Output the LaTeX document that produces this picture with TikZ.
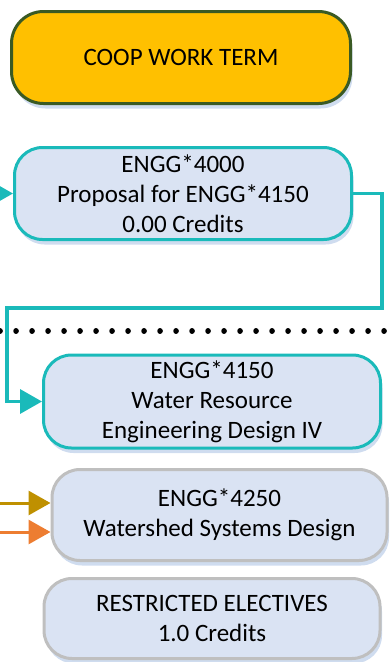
\documentclass[tikz,border=0pt]{standalone}
\usepackage{fontspec}
\setmainfont{Carlito}
\usetikzlibrary{arrows.meta, shadows}

\definecolor{coopfill}{HTML}{FFC000}
\definecolor{coopline}{HTML}{3A5A24}
\definecolor{boxfill}{HTML}{DAE3F3}
\definecolor{tealline}{HTML}{1ABABA}
\definecolor{greyline}{HTML}{BFBFBF}
\definecolor{goldline}{HTML}{BF9000}
\definecolor{orangeline}{HTML}{ED7D31}
\definecolor{shade}{HTML}{CFDCEF}

\tikzset{
course/.style={rounded corners=28pt, fill=boxfill, line width=3pt, align=center, inner sep=0pt,
  font=\fontsize{25}{30}\selectfont,
  drop shadow={shadow xshift=2pt, shadow yshift=-5pt, fill=shade, opacity=1}},
link/.style={line width=3.5pt, -{Triangle[length=22pt,width=24pt]}}
}

\begin{document}
\begin{tikzpicture}[x=1pt, y=-1pt]
\useasboundingbox (0,0) rectangle (390,662);
\node[course, draw=coopline, fill=coopfill, minimum width=339pt, minimum height=92pt, rounded corners=32pt] (coop) at (181,57.5) {COOP WORK TERM};
\node[course, draw=tealline, minimum width=337pt, minimum height=92pt] (4000) at (183,193.5) {ENGG*4000\\Proposal for ENGG*4150\\0.00 Credits};
\node[course, draw=tealline, minimum width=337pt, minimum height=93pt] (4150) at (212,401.5) {ENGG*4150\\Water Resource\\Engineering Design IV};
\node[course, draw=greyline, minimum width=335pt, minimum height=91pt] (4250) at (219.5,515) {ENGG*4250\\Watershed Systems Design};
\node[course, draw=greyline, minimum width=336pt, minimum height=80pt] (re) at (212,618.5) {RESTRICTED ELECTIVES\\1.0 Credits};

\coordinate (in4000) at (-10,193.5);
\coordinate (turnR) at (382,308);
\coordinate (turnL) at (7,401.5);
\coordinate (ingold) at (-10,503);
\coordinate (inorange) at (-10,532);
\coordinate (sepL) at (0,331);
\coordinate (sepR) at (392,331);

\draw[link, tealline] (in4000) -- (4000.west);
\draw[link, tealline] (4000.east) -| (turnR) -| (turnL) -- (4150.west);
\draw[link, goldline, line width=3pt] (ingold) -- (ingold -| 4250.west);
\draw[link, orangeline, line width=3pt] (inorange) -- (inorange -| 4250.west);
\draw[line width=5.5pt, line cap=round, dash pattern=on 0.1pt off 15.9pt] (sepL) -- (sepR);
\end{tikzpicture}
\end{document}
